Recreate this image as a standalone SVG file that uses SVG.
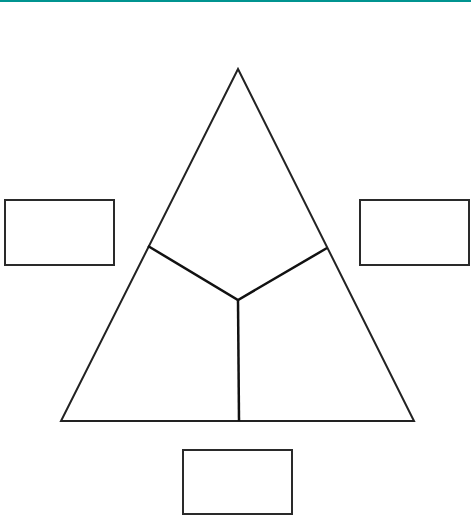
<svg xmlns="http://www.w3.org/2000/svg" width="471" height="524" viewBox="0 0 471 524">
<style>
.box{fill:#fff;stroke:#2a2a2a;stroke-width:2}
.ln{fill:none;stroke:#222;stroke-width:2;stroke-linejoin:miter}
.in{fill:none;stroke:#111;stroke-width:2.5}
</style>
<rect width="471" height="524" fill="#fff"/>
<line x1="0" y1="1" x2="471" y2="1" stroke="#009490" stroke-width="2"/>
<g id="triangle"><polygon class="ln" points="238,69 414,421 61,421"/></g>
<g id="box-left"><rect class="box" x="5" y="200" width="109" height="65"/></g>
<g id="box-right"><rect class="box" x="360" y="200" width="109" height="65"/></g>
<g id="box-bottom"><rect class="box" x="183" y="450" width="109" height="64"/></g>
<g id="connectors">
<polyline class="in" points="148,246 238,300 327,248"/>
<line class="in" x1="238" y1="300" x2="239" y2="421"/>
</g>
</svg>
